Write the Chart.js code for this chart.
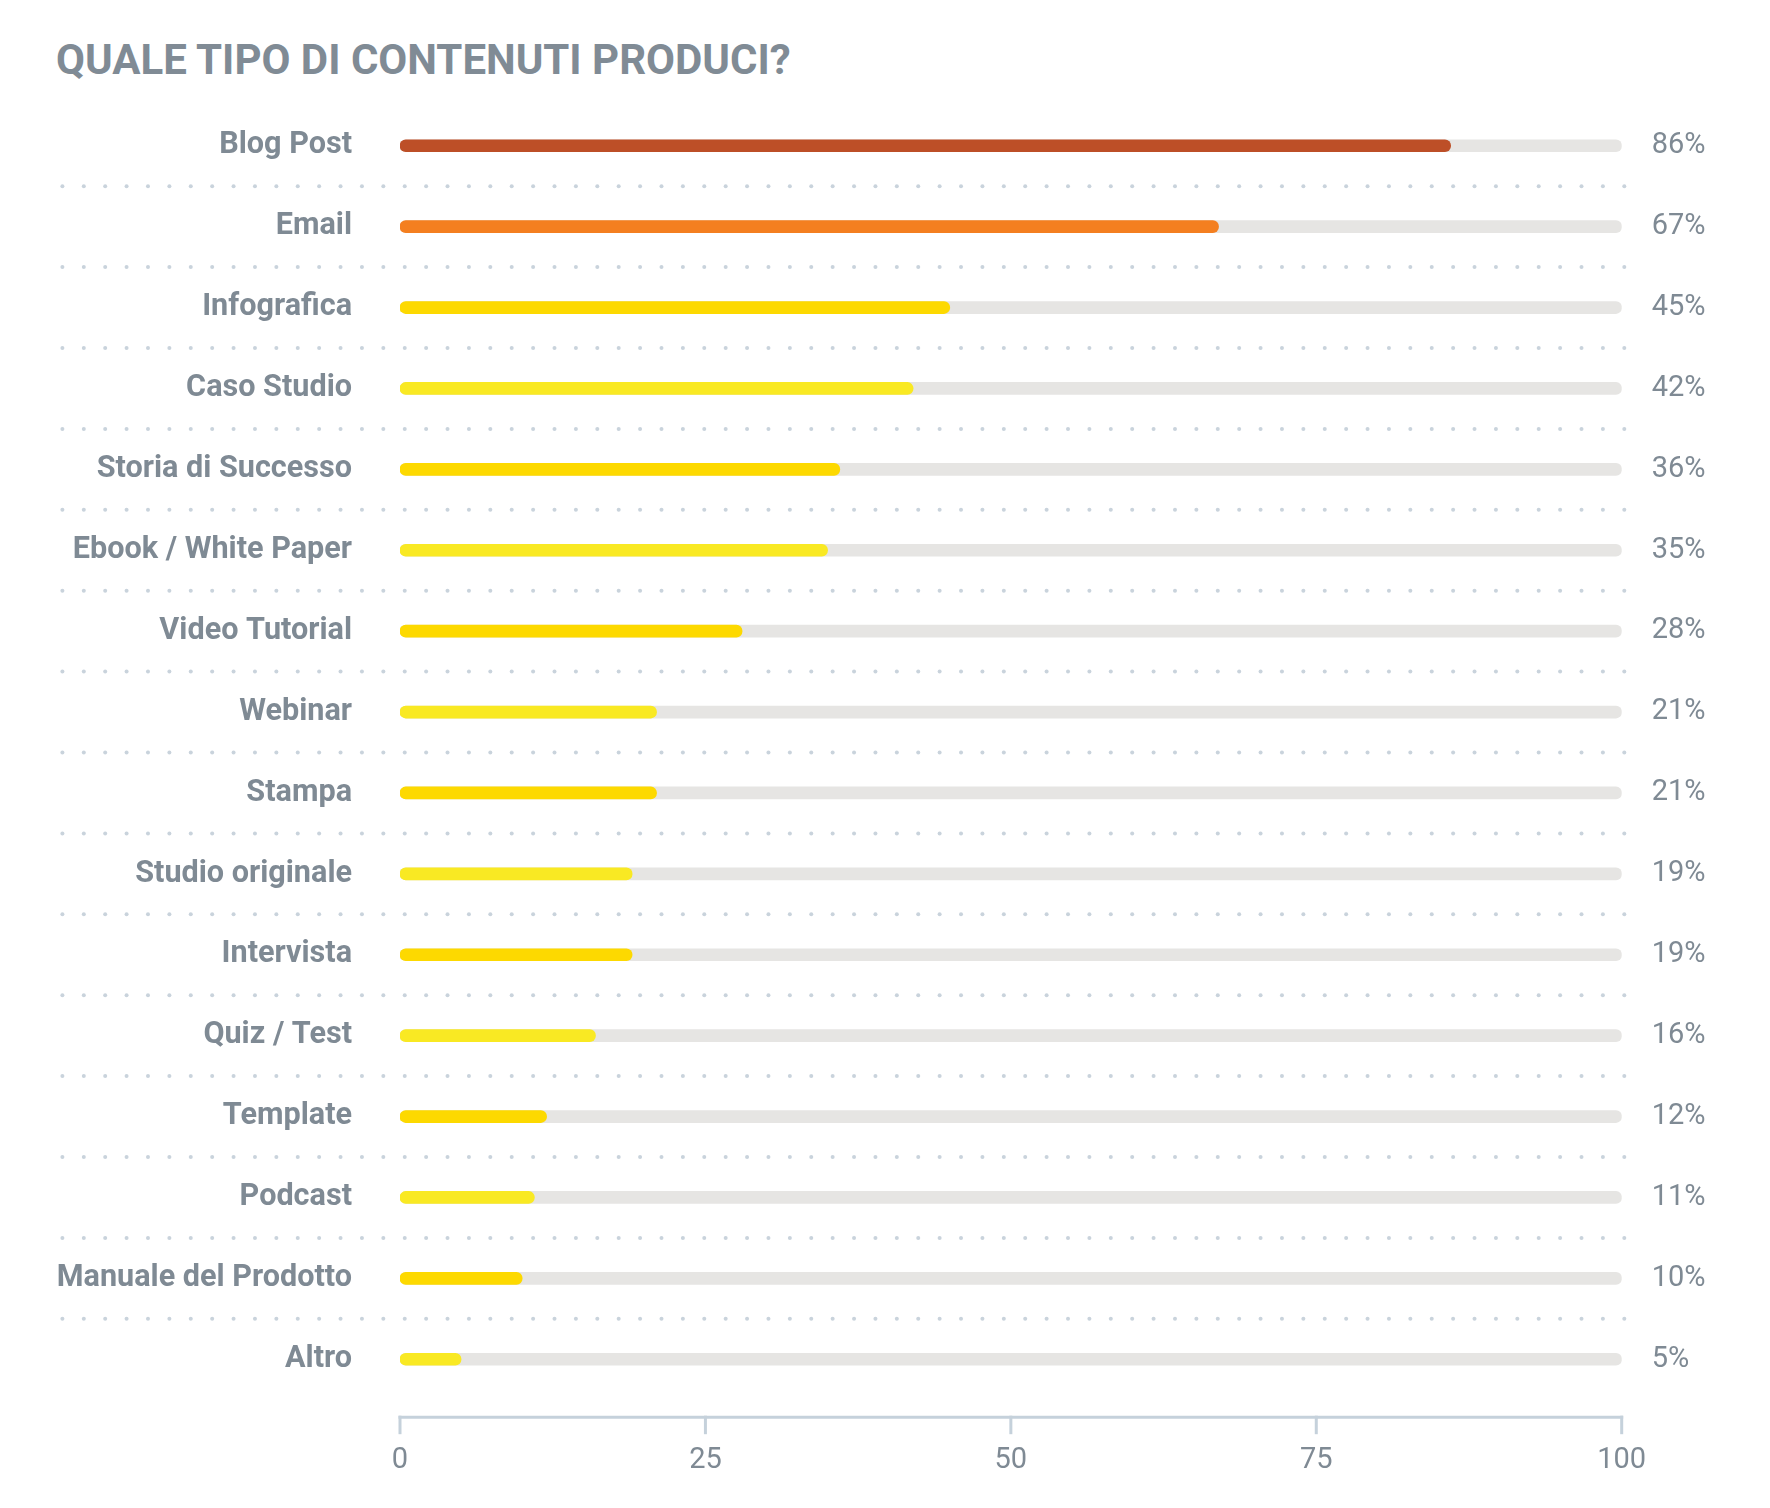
<!DOCTYPE html>
<html>
<head>
<meta charset="utf-8">
<script src="https://cdn.jsdelivr.net/npm/chart.js@4"></script>
<style>
  html, body { margin: 0; padding: 0; background: #fff; }
  #wrap { position: relative; width: 1770px; height: 1508px; }
  #title {
    position: absolute; left: 56px; top: 39px;
    font: 700 42px Roboto, sans-serif; line-height: 1;
    color: #808b95; white-space: nowrap;
  }
  canvas { position: absolute; left: 0; top: 0; }
</style>
</head>
<body>
<div id="wrap">
  <div id="title">QUALE TIPO DI CONTENUTI PRODUCI?</div>
  <canvas id="chart" width="1770" height="1508"></canvas>
</div>
<script>
const categories = ['Blog Post', 'Email', 'Infografica', 'Caso Studio', 'Storia di Successo',
  'Ebook / White Paper', 'Video Tutorial', 'Webinar', 'Stampa', 'Studio originale',
  'Intervista', 'Quiz / Test', 'Template', 'Podcast', 'Manuale del Prodotto', 'Altro'];
const values = [86, 67, 45, 42, 36, 35, 28, 21, 21, 19, 19, 16, 12, 11, 10, 5];
const valueLabels = values.map(v => v + '%');
const xTicks = [0, 25, 50, 75, 100];

const barColors = ['#bd4f27', '#f47f20', '#fdd900', '#f9e923', '#fdd900', '#f9e923',
  '#fdd900', '#f9e923', '#fdd900', '#f9e923', '#fdd900', '#f9e923', '#fdd900',
  '#f9e923', '#fdd900', '#f9e923'];
const textGrey = '#7f8a94';
const trackMax = 100;

// dotted row separators + bottom axis with bracket ticks
const decor = {
  id: 'decor',
  beforeDatasetsDraw(chart) {
    const { ctx, chartArea, scales: { x, y } } = chart;
    ctx.save();
    ctx.fillStyle = '#c9d3dc';
    const half = (y.getPixelForValue(1) - y.getPixelForValue(0)) / 2;
    const x0 = 62.4, x1 = 1624.3, n = 73;
    for (let i = 0; i < categories.length - 1; i++) {
      const yy = y.getPixelForValue(i) + half;
      for (let k = 0; k <= n; k++) {
        ctx.beginPath();
        ctx.arc(x0 + k * (x1 - x0) / n, yy, 2, 0, Math.PI * 2);
        ctx.fill();
      }
    }
    const ay = chartArea.bottom + 17.5;
    ctx.strokeStyle = '#c5d1db';
    ctx.lineWidth = 3;
    ctx.beginPath();
    ctx.moveTo(x.getPixelForValue(0) - 1.5, ay);
    ctx.lineTo(x.getPixelForValue(100) + 1.5, ay);
    ctx.stroke();
    xTicks.forEach(t => {
      const px = x.getPixelForValue(t);
      ctx.beginPath();
      ctx.moveTo(px, ay - 1.5);
      ctx.lineTo(px, ay + 17);
      ctx.stroke();
    });
    ctx.restore();
  }
};

Chart.defaults.font.family = 'Roboto';

new Chart(document.getElementById('chart'), {
  type: 'bar',
  data: {
    labels: categories,
    datasets: [{
      data: values,
      backgroundColor: barColors,
      barThickness: 12,
      borderRadius: 6,
      borderSkipped: false,
      grouped: false
    }, {
      data: categories.map(() => trackMax),
      backgroundColor: '#e6e5e3',
      barThickness: 12,
      borderRadius: 6,
      borderSkipped: false,
      grouped: false
    }]
  },
  options: {
    indexAxis: 'y',
    responsive: false,
    animation: false,
    layout: { padding: { top: 105.3, bottom: 0, left: 0, right: 0 } },
    plugins: { legend: { display: false }, tooltip: { enabled: false } },
    scales: {
      x: {
        type: 'linear',
        min: 0,
        max: 100,
        afterBuildTicks: s => { s.ticks = xTicks.map(v => ({ value: v })); },
        ticks: { color: textGrey, font: { size: 29 }, padding: 12 },
        grid: { display: false, drawTicks: true, tickLength: 32 },
        border: { display: false },
        afterFit: s => { s.height = 108.3; }
      },
      y: {
        type: 'category',
        offset: true,
        ticks: { color: textGrey, font: { size: 30.6, weight: 'bold' }, padding: 48, autoSkip: false },
        grid: { display: false, drawTicks: false },
        border: { display: false },
        afterFit: s => { s.width = 400; }
      },
      y2: {
        type: 'category',
        position: 'right',
        labels: valueLabels,
        offset: true,
        ticks: { color: textGrey, font: { size: 29 }, padding: 30, autoSkip: false },
        grid: { display: false, drawTicks: false },
        border: { display: false },
        afterFit: s => { s.width = 148.3; }
      }
    }
  },
  plugins: [decor]
});
</script>
</body>
</html>
